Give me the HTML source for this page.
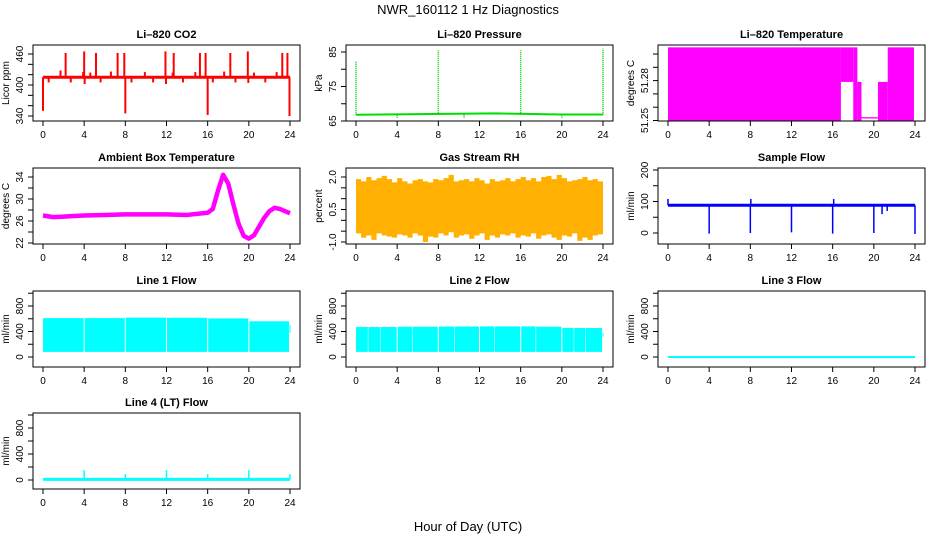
<!DOCTYPE html>
<html><head><meta charset="utf-8"><style>
html,body{margin:0;padding:0;background:#fff}
svg{display:block;font-family:"Liberation Sans",Arial,sans-serif}
.tl{font-size:10px}
.tt{font-size:11px;font-weight:bold}
</style></head><body>
<svg id="c" width="936" height="540" viewBox="0 0 936 540">
<text x="468" y="14" text-anchor="middle" font-size="13">NWR_160112 1 Hz Diagnostics</text>
<text x="468" y="531" text-anchor="middle" font-size="13">Hour of Day (UTC)</text>
</svg>
<script>
// ---- data ----
const xTicks = [0,4,8,12,16,20,24];
const co2Base = 415;
const co2Times = [2.2,4.0,5.15,7.25,7.9,11.9,12.7,15.25,15.8,18.2,19.9,23.25,23.75,1.7,3.9,4.6,6.6,9.9,12.6,14.8,17.6,20.5,22.7,0.0,0.55,2.7,4.05,5.6,8.0,8.6,10.7,11.95,13.6,16.0,16.5,18.7,19.95,21.6,23.95];
const co2Peaks = [462,465,462,462,462,465,462,462,462,462,465,462,462,428,425,424,426,425,424,425,426,424,425,350,405,405,402,405,345,405,405,402,405,342,405,405,404,405,340];
const presBaseTimes = [0,13.5,20,24];
const presBaseVals = [66.8,67.2,66.9,66.9];
const presTimes = [0,8,16,24,4,10.5,20];
const presPeaks = [82.3,85.5,85.5,86,65.8,65.8,65.8];
const tempStarts = [0,16.8,18.0,18.4,18.8,20.4,21.35];
const tempEnds = [16.8,18.0,18.4,18.8,20.4,21.35,23.9];
const tempLows = [51.25,51.279,51.25,51.25,51.2515,51.25,51.25];
const tempHighs = [51.305,51.305,51.305,51.279,51.2525,51.279,51.305];
const ambTimes = [0,1,2,3,4,6,8,10,12,14,16,16.5,17,17.5,18,18.5,19,19.5,20,20.5,21,21.5,22,22.5,23,23.5,24];
const ambVals = [27,26.7,26.8,26.9,27,27.1,27.2,27.2,27.2,27.1,27.5,28.2,31.5,34.4,32.8,29,25.5,23.3,22.8,23.4,25,26.6,27.8,28.4,28.2,27.8,27.4];
const rhHigh = [1.9,1.8,2.0,1.85,1.95,2.05,1.9,1.75,1.95,1.8,1.7,1.85,1.9,1.8,1.75,1.9,1.85,1.95,2.1,1.8,1.85,1.9,1.8,1.95,1.85,1.7,1.9,1.8,1.85,1.95,1.8,1.9,2.0,1.85,1.95,1.8,2.0,2.05,1.9,2.1,1.95,1.8,1.85,1.9,2.0,1.85,1.9,1.8];
const rhLow = [-0.6,-0.8,-0.7,-0.9,-0.6,-0.7,-0.75,-0.8,-0.65,-0.7,-0.8,-0.6,-0.7,-1.0,-0.75,-0.8,-0.6,-0.7,-0.55,-0.8,-0.7,-0.65,-0.85,-0.7,-0.6,-0.9,-0.7,-0.8,-0.65,-0.7,-0.6,-0.8,-0.7,-0.75,-0.6,-0.85,-0.7,-0.65,-0.8,-0.9,-0.7,-0.75,-0.6,-0.95,-0.8,-0.9,-0.7,-0.65];
const sampleBase = 88;
const sampleTimes = [4,8,12,16,20,24,0,8.05,16.1,20.8,21.3];
const samplePeaks = [-2,0,2,-2,0,-3,108,108,108,60,70];
const line1Starts = [0,4.05,8.05,12.05,16.05,20.05,23.95];
const line1Ends = [3.95,7.95,11.95,15.95,19.95,23.9,24];
const line1Highs = [610,610,618,615,605,560,500];
const line1Lows = [80,80,80,80,80,80,380];
const line2Starts = [0,1.2,2.4,4.05,5.5,8.05,9.6,12.05,13.5,16.05,17.5,20.05,21.2,22.3,23.95];
const line2Ends = [1.15,2.35,3.95,5.45,7.95,9.55,11.95,13.45,15.95,17.45,19.95,21.15,22.25,23.9,24];
const line2Highs = [470,470,470,475,475,478,478,480,480,480,475,455,455,455,380];
const line2Lows = [80,80,80,80,80,80,80,80,80,80,80,80,80,80,320];
const line3Val = 0;
const line4Base = 10;
const line4Times = [4,8,12,16,20,24];
const line4Peaks = [150,90,150,90,150,90];

// ---- layout ----
const svg = document.getElementById('c');
const NS = 'http://www.w3.org/2000/svg';
const colL = [33,346,658], rowT = [45,168,291,413], W = 267, H = 76;
function mk(tag, attrs, parent){ const e=document.createElementNS(NS,tag); for(const k in attrs) e.setAttribute(k,attrs[k]); (parent||svg).appendChild(e); return e; }

function panel(name, col, row, title, ylab, v0, p0, v1, p1, yTicks, yLabels){
  const L=colL[col], T=rowT[row];
  const g = mk('g',{});
  
  
  const xs = t => L+10 + t*(W-20)/24;
  const ys = v => T + p0 + (v-v0)*(p1-p0)/(v1-v0);
  const plot = mk('g',{},g);
  
  
  const box = mk('rect',{x:L,y:T,width:W,height:H,fill:'none',stroke:'#000','stroke-width':1},g);
  
  
  const tt = mk('text',{x:L+W/2,y:T-7,'text-anchor':'middle',class:'tt'},g);
  tt.textContent = title;
  
  
  const xa = mk('g',{},g);
  
  
  mk('line',{x1:xs(0),x2:xs(24),y1:T+H,y2:T+H,stroke:'#000'},xa);
  xTicks.forEach(t=>{
    mk('line',{x1:xs(t),x2:xs(t),y1:T+H,y2:T+H+5,stroke:'#000'},xa);
    const tx = mk('text',{x:xs(t),y:T+H+17,'text-anchor':'middle',class:'tl'},xa);
    tx.textContent = t;
    
    
  });
  const ya = mk('g',{},g);
  
  
  mk('line',{x1:L,x2:L,y1:ys(yTicks[0]),y2:ys(yTicks[yTicks.length-1]),stroke:'#000'},ya);
  yTicks.forEach(v=>{ mk('line',{x1:L-5,x2:L,y1:ys(v),y2:ys(v),stroke:'#000'},ya); });
  yLabels.forEach(v=>{
    const y=ys(parseFloat(v)), x=L-10;
    const tx = mk('text',{x:x,y:y,'text-anchor':'middle',class:'tl',transform:`rotate(-90 ${x} ${y})`},ya);
    tx.textContent = String(v);
    
    
  });
  const lx=L-24, ly=T+H/2;
  const yl = mk('text',{x:lx,y:ly,'text-anchor':'middle',class:'tl',transform:`rotate(-90 ${lx} ${ly})`},g);
  yl.textContent = ylab;
  
  
  return {xs, ys, plot};
}

{
  const p = panel('co2',0,0,'Li\u2013820 CO2','Licor ppm',340,71,460,9,[340,360,380,400,420,440,460],[340,400,460]);
  co2Times.forEach((t,i)=>{ mk('line',{x1:p.xs(t),x2:p.xs(t),y1:p.ys(co2Base),y2:p.ys(co2Peaks[i]),stroke:'#ff0000','stroke-width':2},p.plot); });
  mk('line',{x1:p.xs(0),x2:p.xs(24),y1:p.ys(co2Base),y2:p.ys(co2Base),stroke:'#ff0000','stroke-width':3},p.plot);
}
{
  const p = panel('pressure',1,0,'Li\u2013820 Pressure','kPa',65,76,85,7,[65,70,75,80,85],[65,75,85]);
  let d=''; presBaseTimes.forEach((t,i)=>{ d+=(i?'L':'M')+p.xs(t)+' '+p.ys(presBaseVals[i]); });
  mk('path',{d:d,fill:'none',stroke:'#00dd00','stroke-width':2},p.plot);
  presTimes.forEach((t,i)=>{ mk('line',{x1:p.xs(t),x2:p.xs(t),y1:p.ys(66.8),y2:p.ys(presPeaks[i]),stroke:'#00cc00','stroke-width':1.5,'stroke-dasharray':'1 1'},p.plot); });
}
{
  const p = panel('li820-temp',2,0,'Li\u2013820 Temperature','degrees C',51.25,75.5,51.30,9,[51.25,51.26,51.27,51.28,51.29,51.30],['51.25','51.28']);
  tempStarts.forEach((s,i)=>{
    const y1=p.ys(tempHighs[i]), y2=p.ys(tempLows[i]);
    mk('rect',{x:p.xs(s),y:y1,width:p.xs(tempEnds[i])-p.xs(s),height:Math.max(1.2,y2-y1),fill:'#ff00ff'},p.plot);
  });
}
{
  const p = panel('ambient-temp',0,1,'Ambient Box Temperature','degrees C',22,75,34,9,[22,24,26,28,30,32,34],[22,26,30,34]);
  let d=''; ambTimes.forEach((t,i)=>{ d+=(i?'L':'M')+p.xs(t)+' '+p.ys(ambVals[i]); });
  mk('path',{d:d,fill:'none',stroke:'#ff00ff','stroke-width':4.5,'stroke-linejoin':'round'},p.plot);
}
{
  const p = panel('gas-rh',1,1,'Gas Stream RH','percent',-1.0,74,2.0,9,[-1.0,-0.5,0,0.5,1.0,1.5,2.0],['-1.0','0.5','2.0']);
  const n=rhHigh.length, step=24/n;
  let d='';
  rhHigh.forEach((v,i)=>{ d+=(i?'L':'M')+p.xs(i*step)+' '+p.ys(v)+'L'+p.xs((i+1)*step)+' '+p.ys(v); });
  for(let i=n-1;i>=0;i--){ d+='L'+p.xs((i+1)*step)+' '+p.ys(rhLow[i])+'L'+p.xs(i*step)+' '+p.ys(rhLow[i]); }
  mk('path',{d:d+'Z',fill:'#ffb000'},p.plot);
}
{
  const p = panel('sample-flow',2,1,'Sample Flow','ml/min',0,65,200,2,[0,50,100,150,200],[0,100,200]);
  mk('line',{x1:p.xs(0),x2:p.xs(24),y1:p.ys(sampleBase),y2:p.ys(sampleBase),stroke:'#0000ff','stroke-width':3},p.plot);
  sampleTimes.forEach((t,i)=>{ mk('line',{x1:p.xs(t),x2:p.xs(t),y1:p.ys(sampleBase),y2:p.ys(samplePeaks[i]),stroke:'#0000ff','stroke-width':1.5},p.plot); });
}
function bands(p, starts, ends, lows, highs){
  starts.forEach((s,i)=>{
    const y1=p.ys(highs[i]), y2=p.ys(lows[i]);
    mk('rect',{x:p.xs(s),y:y1,width:Math.max(1,p.xs(ends[i])-p.xs(s)),height:y2-y1,fill:'#00ffff'},p.plot);
  });
}
const flowTicks=[0,200,400,600,800,1000], flowLabels=[0,400,800];
{
  const p = panel('line1-flow',0,2,'Line 1 Flow','ml/min',0,66,800,15,flowTicks,flowLabels);
  bands(p,line1Starts,line1Ends,line1Lows,line1Highs);
}
{
  const p = panel('line2-flow',1,2,'Line 2 Flow','ml/min',0,66,800,15,flowTicks,flowLabels);
  bands(p,line2Starts,line2Ends,line2Lows,line2Highs);
}
{
  const p = panel('line3-flow',2,2,'Line 3 Flow','ml/min',0,66,800,15,flowTicks,flowLabels);
  mk('line',{x1:p.xs(0),x2:p.xs(24),y1:p.ys(line3Val),y2:p.ys(line3Val),stroke:'#00ffff','stroke-width':2},p.plot);
}
{
  const p = panel('line4-flow',0,3,'Line 4 (LT) Flow','ml/min',0,67,800,15,flowTicks,flowLabels);
  mk('line',{x1:p.xs(0),x2:p.xs(24),y1:p.ys(line4Base),y2:p.ys(line4Base),stroke:'#00ffff','stroke-width':3},p.plot);
  line4Times.forEach((t,i)=>{ mk('line',{x1:p.xs(t),x2:p.xs(t),y1:p.ys(line4Base),y2:p.ys(line4Peaks[i]),stroke:'#00ffff','stroke-width':1.5},p.plot); });
}
</script>
</body></html>
